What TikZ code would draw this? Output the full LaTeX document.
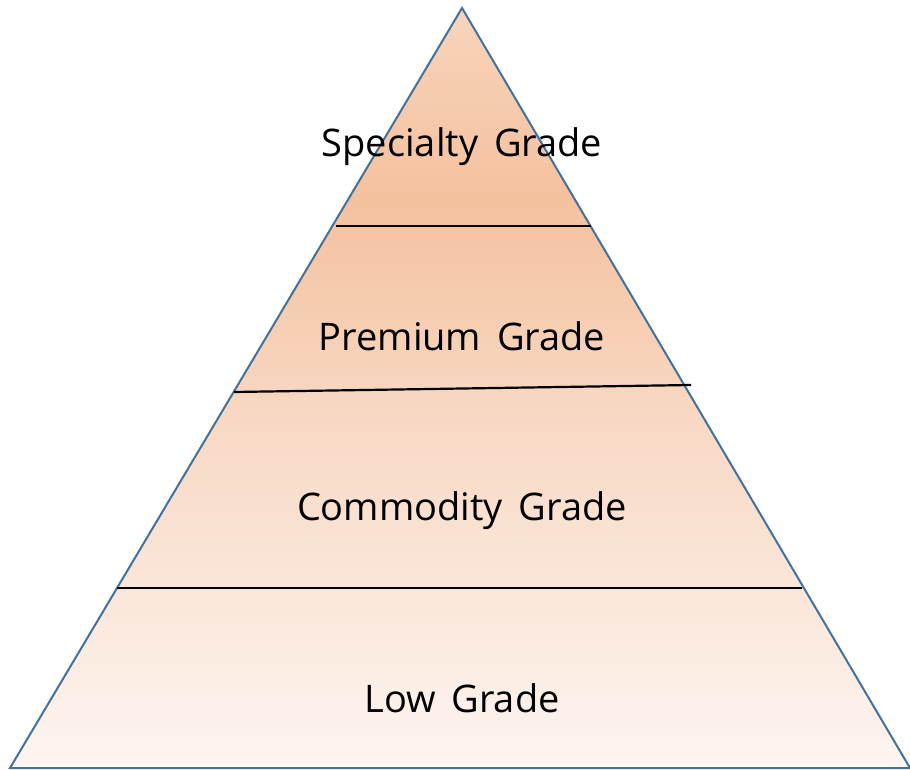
\documentclass[tikz,border=0pt]{standalone}
\usepackage{fontspec}
\setmainfont{Open Sans}[WordSpace=1.6]
\definecolor{edgeblue}{HTML}{41719C}
\definecolor{peachtop}{HTML}{F8D4BC}
\definecolor{peachdeep}{HTML}{F4C19E}
\definecolor{peachmid}{HTML}{F8D9C5}
\definecolor{peachlow}{HTML}{FDF5F0}
% vertical gradient of the pyramid body (path mapped onto 25bp..75bp)
\pgfdeclareverticalshading{pyramidfill}{100bp}{%
  color(0bp)=(peachlow); color(25bp)=(peachlow);
  color(47.5bp)=(peachmid); color(62.5bp)=(peachdeep);
  color(75bp)=(peachtop); color(100bp)=(peachtop)}
\tikzset{
  divider/.style={draw=black, line width=2.2pt},
  tierlabel/.style={anchor=base, inner sep=0pt, font=\fontsize{38}{45}\selectfont},
}
\begin{document}
\begin{tikzpicture}[x=1pt, y=-1pt]
  \useasboundingbox (0,0) rectangle (910,770);
  % pyramid corners
  \coordinate (apex) at (462,8);
  \coordinate (bl) at (10,768);
  \coordinate (br) at (910,768);
  \shade[shading=pyramidfill] (apex) -- (br) -- (bl) -- cycle;
  \draw[edgeblue, line width=2pt, line join=miter] (apex) -- (br) -- (bl) -- cycle;
  % tier dividers
  \coordinate (d1l) at (336,226);  \coordinate (d1r) at (591,226);
  \coordinate (d2l) at (234,392);  \coordinate (d2r) at (691,385);
  \coordinate (d3l) at (117,588);  \coordinate (d3r) at (802,588);
  \draw[divider] (d1l) -- (d1r);
  \draw[divider] (d2l) -- (d2r);
  \draw[divider] (d3l) -- (d3r);
  % tier labels
  \node[tierlabel] (specialty) at (462,157) {Specialty Grade};
  \node[tierlabel] (premium) at (462,350) {Premium Grade};
  \node[tierlabel] (commodity) at (462,520) {Commodity Grade};
  \node[tierlabel] (low) at (462,712) {Low Grade};
\end{tikzpicture}
\end{document}
